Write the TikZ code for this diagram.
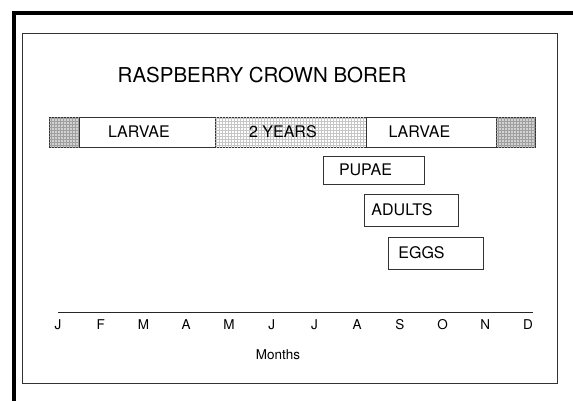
\documentclass[tikz,border=0pt]{standalone}
\usepackage{fontspec}
\setmainfont{TeX Gyre Heros}
\usetikzlibrary{patterns}

\begin{document}
\begin{tikzpicture}[x=1pt, y=1pt,
  stage/.style={draw=black!80, line width=0.8pt, fill=white, inner sep=0pt,
                minimum height=30pt, anchor=west},
  endcap/.style={stage, fill=gray!35, postaction={pattern=grid, pattern color=gray!75}},
  yearbar/.style={stage, postaction={pattern=grid, pattern color=gray!45}},
  late/.style={draw=black!80, line width=0.8pt, inner sep=0pt},
  lbl/.style={font=\fontsize{16}{19}\selectfont, inner sep=0pt},
  mon/.style={font=\fontsize{13.5}{16}\selectfont, inner sep=0pt}]
\useasboundingbox (0,0) rectangle (573,400);
\begin{scope}
\clip (0,0) rectangle (573,400);
\draw[line width=4pt] (14,-10) rectangle (600,387);
\end{scope}
\draw[line width=0.9pt, black!80] (22.5,17) rectangle (557.5,367);
% title
\node[font=\fontsize{20.5}{24}\selectfont] (title) at (262,325) {RASPBERRY CROWN BORER};
% two-year bar
\node[endcap, minimum width=30pt] (capL) at (49,268) {};
\node[stage, minimum width=137pt] (lar1) at (79,268) {};
\node[yearbar, minimum width=151pt] (yrs) at (215,268) {};
\node[stage, minimum width=130pt] (lar2) at (366,268) {};
\node[endcap, minimum width=39pt] (capR) at (496,268) {};
\node[lbl] (t1) at ([xshift=-9pt]lar1.center) {LARVAE};
\node[lbl] (t2) at ([xshift=-8pt]yrs.center) {2 YEARS};
\node[lbl] (t3) at ([xshift=-12pt]lar2.center) {LARVAE};
% later stages
\node[late, minimum width=101pt, minimum height=28pt] (pup) at (373.5,230) {};
\node[late, minimum width=94pt, minimum height=32pt] (adu) at (411,190) {};
\node[late, minimum width=95pt, minimum height=32pt] (egg) at (435.5,147) {};
\node[lbl] (t4) at ([xshift=-8pt]pup.center) {PUPAE};
\node[lbl] (t5) at ([xshift=-9pt]adu.center) {ADULTS};
\node[lbl] (t6) at ([xshift=-14pt]egg.center) {EGGS};
% month axis
\coordinate (ax0) at (58,88);
\coordinate (ax1) at (533,88);
\draw[line width=0.9pt, black!85] (ax0) -- (ax1);
\foreach \m [count=\i from 0] in {J,F,M,A,M,J,J,A,S,O,N,D}
  \node[mon] (m\i) at (58+42.73*\i,75) {\m};
\node[mon] (months) at (278,45) {Months};
\end{tikzpicture}
\end{document}
